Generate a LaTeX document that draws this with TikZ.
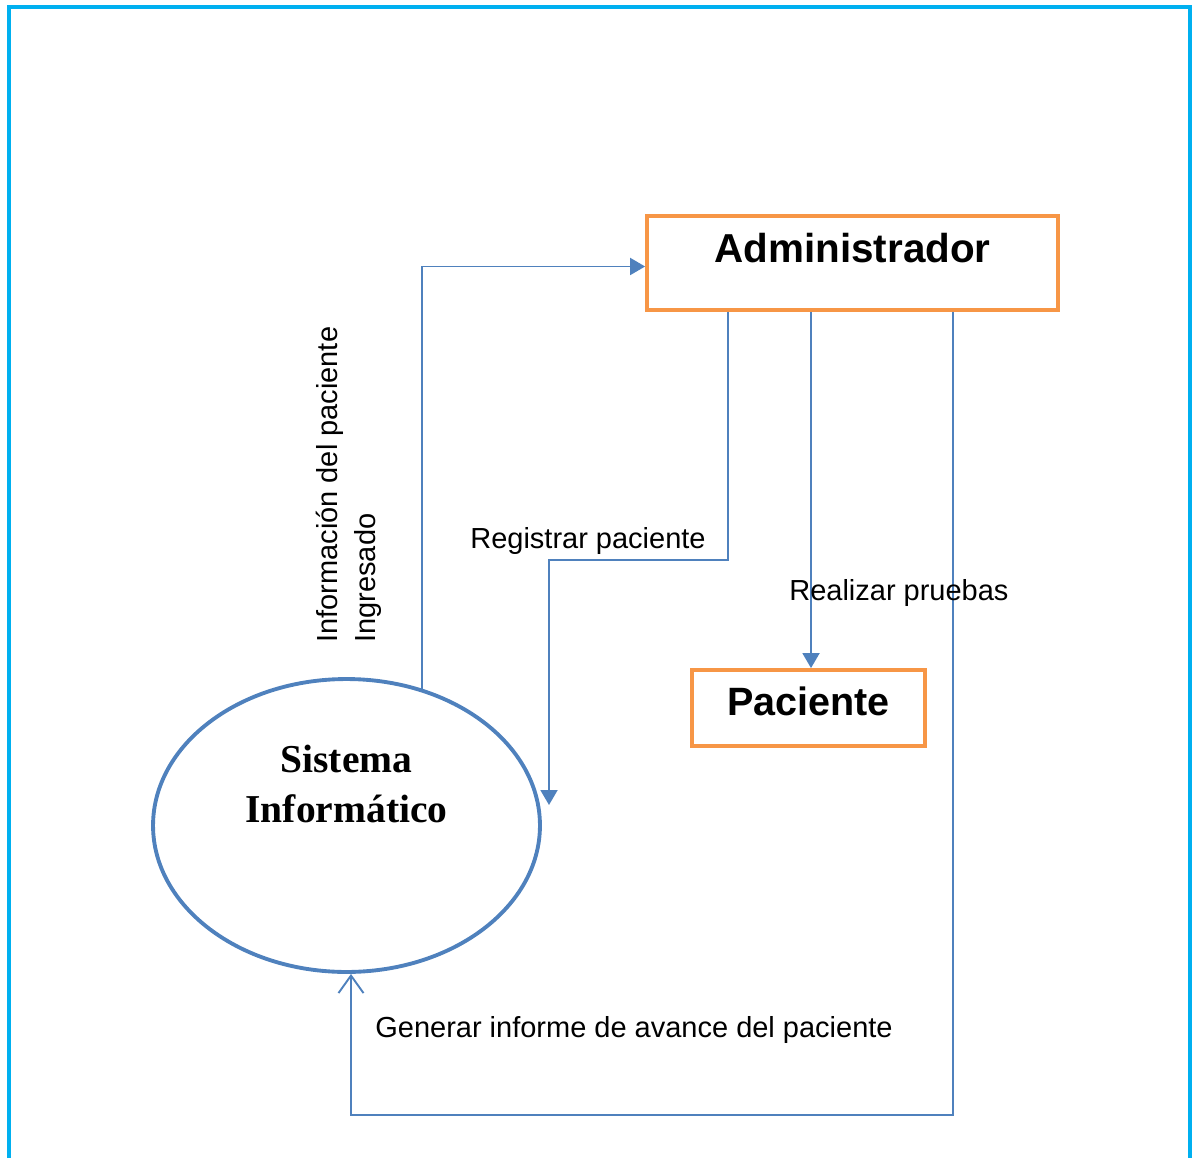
\documentclass[tikz,border=0pt]{standalone}
\usepackage{fontspec}
\setmainfont{Liberation Sans}
\newfontfamily\sysFont{Liberation Serif}
\usetikzlibrary{calc, positioning, arrows.meta, shapes.geometric}
\definecolor{flowBlue}{RGB}{79,129,189}
\definecolor{entityOrange}{RGB}{247,150,70}
\definecolor{frameCyan}{RGB}{0,176,240}

\begin{document}
\begin{tikzpicture}[x=0.02cm, y=-0.02cm,
    entity/.style={draw=entityOrange, line width=2.2pt, rectangle},
    process/.style={draw=flowBlue, line width=2.2pt, ellipse, minimum width=7.74cm, minimum height=5.86cm, inner sep=0},
    flow/.style={draw=flowBlue, line width=1.1pt, -{Triangle[length=0.3cm, width=0.34cm]}},
    flowlabel/.style={inner sep=0, font=\fontsize{16.5}{21.6}\selectfont}]
    \useasboundingbox (0,0) rectangle (1195,1158);

    % Frame, open at the bottom
    \draw[frameCyan, line width=2.3pt] (9,1158) -- (9,7) -- (1190,7) -- (1190,1158);

    % Entities and the process
    \node[entity, minimum width=8.22cm, minimum height=1.88cm, text height=0.6cm, text depth=0.6cm,
          font=\bfseries\fontsize{23}{28}\selectfont] (admin) at (852.5,263) {Administrador};
    \node[entity, minimum width=4.66cm, minimum height=1.52cm, text height=0.55cm, text depth=0.27cm,
          font=\bfseries\fontsize{22.5}{27}\selectfont] (paciente) at (808.5,708) {Paciente};
    \node[process] (sistema) at (346.5,825.5) {};
    \node[inner sep=0, align=center, font=\sysFont\bfseries\fontsize{22.5}{28.45}\selectfont]
          (sistemaText) at (346.5,784) {Sistema\\Informático};

    % Flows
    \draw[flow] (sistema.61) |- ([yshift=-0.07cm]admin.west);
    \coordinate (regEnd) at (549,805);
    \draw[flow] ([xshift=-2.49cm]admin.south) |- ([yshift=4.9cm]regEnd) -- (regEnd);
    \draw[flow] ([xshift=0.05cm]paciente.north |- admin.south) -- ([xshift=0.05cm]paciente.north);
    \draw[flow, -{Straight Barb[length=0.35cm, width=0.5cm]}]
          ([xshift=2.01cm]admin.south) |- ([xshift=0.09cm, yshift=-2.82cm]sistema.south) -- ([xshift=0.09cm]sistema.south);

    % Flow labels
    \node[flowlabel, rotate=90, anchor=north west, align=left] (infoLabel) at (316,643)
          {Información del paciente\\Ingresado};
    \node[flowlabel, anchor=base west] (regLabel) at (470,548) {Registrar paciente};
    \node[flowlabel, anchor=base west] (pruebasLabel) at (789,600) {Realizar pruebas};
    \node[flowlabel, anchor=base west] (informeLabel) at (375,1037) {Generar informe de avance del paciente};
\end{tikzpicture}
\end{document}
